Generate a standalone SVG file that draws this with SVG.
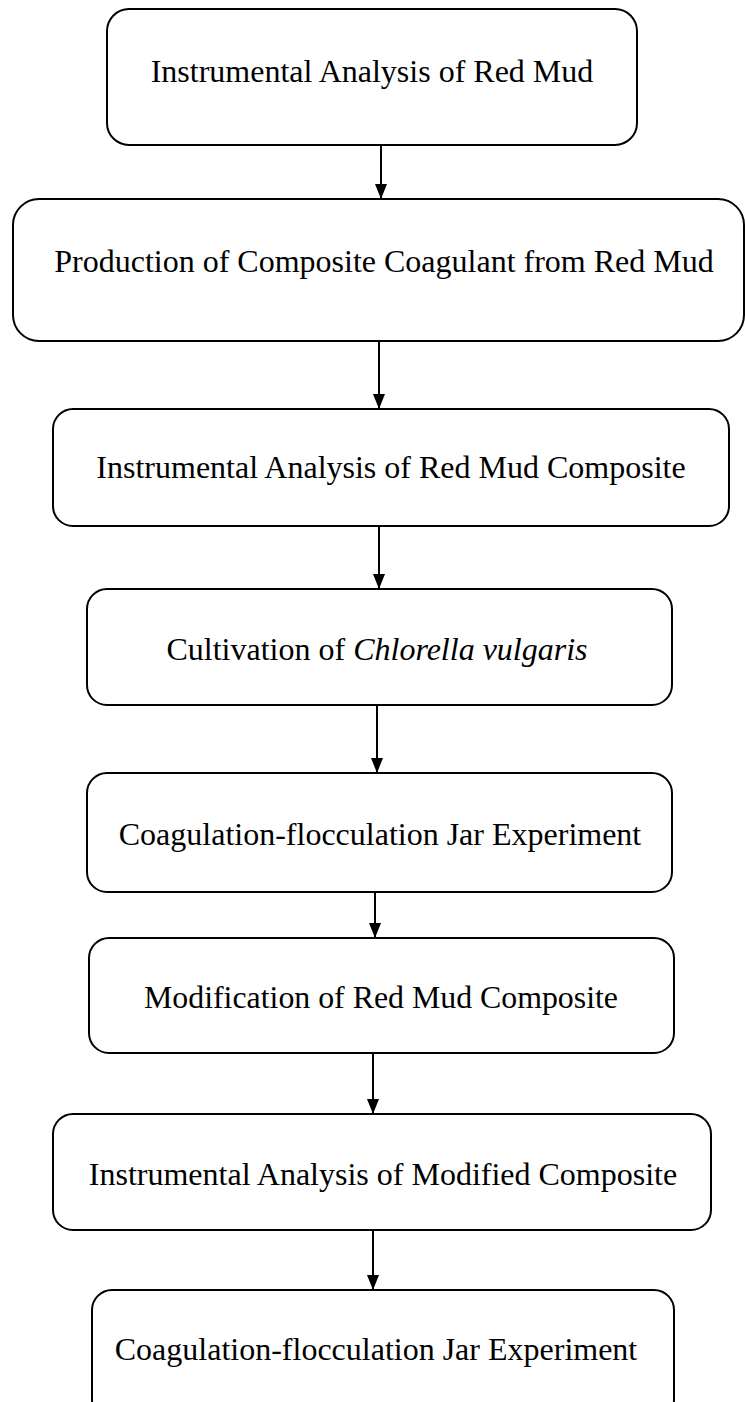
<svg xmlns="http://www.w3.org/2000/svg" width="745" height="1402" viewBox="0 0 745 1402">
<style>
.box{fill:#fff;stroke:#000;stroke-width:2}
.lbl{font-family:"Liberation Serif","Times New Roman",serif;font-size:32px;fill:#000;text-anchor:middle}
.conn{stroke:#000;stroke-width:2;fill:none;marker-end:url(#ah)}
</style>
<defs>
<marker id="ah" markerWidth="15" markerHeight="12" refX="15" refY="6" orient="auto" markerUnits="userSpaceOnUse" viewBox="0 0 15 12">
<path d="M0,0 L15,6 L0,12 Z" fill="#000"/>
</marker>
</defs>
<rect width="745" height="1402" fill="#fff"/>
<g id="connectors">
<line class="conn" x1="381" y1="145" x2="381" y2="199"/>
<line class="conn" x1="379" y1="341" x2="379" y2="409"/>
<line class="conn" x1="379" y1="526" x2="379" y2="589"/>
<line class="conn" x1="377" y1="705" x2="377" y2="773"/>
<line class="conn" x1="375" y1="892" x2="375" y2="938"/>
<line class="conn" x1="373" y1="1053" x2="373" y2="1114"/>
<line class="conn" x1="373" y1="1230" x2="373" y2="1290"/>
</g>
<g id="n1"><rect class="box" x="107" y="9" width="530" height="136" rx="22"/><text class="lbl" x="372" y="82">Instrumental Analysis of Red Mud</text></g>
<g id="n2"><rect class="box" x="13" y="199" width="731" height="142" rx="26"/><text class="lbl" x="384" y="272">Production of Composite Coagulant from Red Mud</text></g>
<g id="n3"><rect class="box" x="53" y="409" width="676" height="117" rx="20"/><text class="lbl" x="391" y="478">Instrumental Analysis of Red Mud Composite</text></g>
<g id="n4"><rect class="box" x="87" y="589" width="585" height="116" rx="20"/><text class="lbl" x="377" y="660">Cultivation of <tspan font-style="italic">Chlorella vulgaris</tspan></text></g>
<g id="n5"><rect class="box" x="87" y="773" width="585" height="119" rx="20"/><text class="lbl" x="380" y="845">Coagulation-flocculation Jar Experiment</text></g>
<g id="n6"><rect class="box" x="89" y="938" width="585" height="115" rx="20"/><text class="lbl" x="381" y="1008" textLength="474" lengthAdjust="spacingAndGlyphs">Modification of Red Mud Composite</text></g>
<g id="n7"><rect class="box" x="53" y="1114" width="658" height="116" rx="20"/><text class="lbl" x="383" y="1185">Instrumental Analysis of Modified Composite</text></g>
<g id="n8"><rect class="box" x="92" y="1290" width="582" height="130" rx="20"/><text class="lbl" x="376" y="1360">Coagulation-flocculation Jar Experiment</text></g>
</svg>
